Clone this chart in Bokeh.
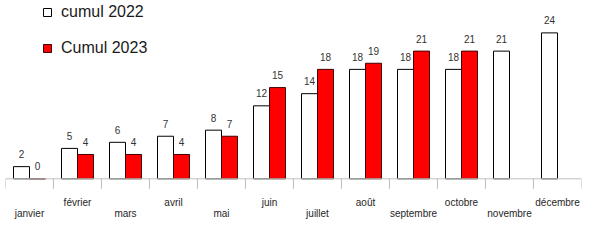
from bokeh.plotting import figure
from bokeh.models import Range1d, FactorRange, ColumnDataSource, Legend, LegendItem, Span
from bokeh.transform import dodge
from bokeh.core.properties import value
from bokeh.embed import file_html
from bokeh.resources import INLINE

months = ["janvier", "février", "mars", "avril", "mai", "juin", "juillet",
          "août", "septembre", "octobre", "novembre", "décembre"]
cumul_2022 = [2, 5, 6, 7, 8, 12, 14, 18, 18, 18, 21, 24]
cumul_2023 = [0, 4, 4, 4, 7, 15, 18, 19, 21, 21]
series_names = ["cumul 2022", "Cumul 2023"]

FONT_NAME = "Liberation Sans"
FONT = value(FONT_NAME)
px_per_unit = 6.08
W, H = 589, 248
axis_px = 178.3

p = figure(width=W, height=H, x_range=FactorRange(*months),
           y_range=Range1d(-(H - axis_px) / px_per_unit, axis_px / px_per_unit),
           x_axis_type=None, y_axis_type=None, output_backend="svg",
           toolbar_location=None, min_border=0, min_border_left=5, min_border_right=8)
p.outline_line_color = None
p.xgrid.visible = False
p.ygrid.visible = False
p.background_fill_color = "white"

src22 = ColumnDataSource(dict(m=months, v=cumul_2022, t=[str(v) for v in cumul_2022]))
src23 = ColumnDataSource(dict(m=months[:len(cumul_2023)], v=cumul_2023,
                              t=[str(v) for v in cumul_2023]))

# axis line and separators
p.add_layout(Span(location=0, dimension="width", line_color="#bfbfbf", line_width=1))
tick_x = [(m, -0.5) for m in months] + [(months[-1], 0.5)]
p.segment(x0=tick_x, x1=tick_x, y0=[0] * len(tick_x),
          y1=[-10 / px_per_unit] * len(tick_x), line_color="#bfbfbf", line_width=1)

r22 = p.vbar(x=dodge("m", -1 / 6, range=p.x_range), top="v", bottom=0, width=1 / 3,
             source=src22, fill_color="white", line_color="black", line_width=1)
r23 = p.vbar(x=dodge("m", 1 / 6, range=p.x_range), top="v", bottom=0, width=1 / 3,
             source=src23, fill_color="#ff0000", line_color="#400000", line_width=1)

p.text(x=dodge("m", -1 / 6, range=p.x_range), y="v", text="t", source=src22,
       text_font=FONT, text_font_size="10px", text_color="#333333",
       text_align="center", text_baseline="middle", y_offset=-12.5)
p.text(x=dodge("m", 1 / 6, range=p.x_range), y="v", text="t", source=src23,
       text_font=FONT, text_font_size="10px", text_color="#333333",
       text_align="center", text_baseline="middle", y_offset=-12.5)

# staggered category labels
lab_src = ColumnDataSource(dict(m=months, y=[0] * len(months),
                                off=[35 if i % 2 == 0 else 24 for i in range(len(months))]))
p.text(x="m", y="y", text="m", y_offset="off", source=lab_src,
       text_font=FONT, text_font_size="10px", text_color="#262626",
       text_align="center", text_baseline="middle")

legend = Legend(items=[LegendItem(label=series_names[0], renderers=[r22]),
                       LegendItem(label=series_names[1], renderers=[r23])],
                location=(37, H - 56 - 2), padding=0, margin=0, spacing=16,
                glyph_width=10, glyph_height=10, label_height=20, label_standoff=9,
                label_text_font=FONT_NAME, label_text_font_size="16px",
                label_text_color="#1a1a1a", border_line_color=None,
                background_fill_alpha=0)
p.add_layout(legend, "center")

open("out.html", "w").write(file_html(p, INLINE))
